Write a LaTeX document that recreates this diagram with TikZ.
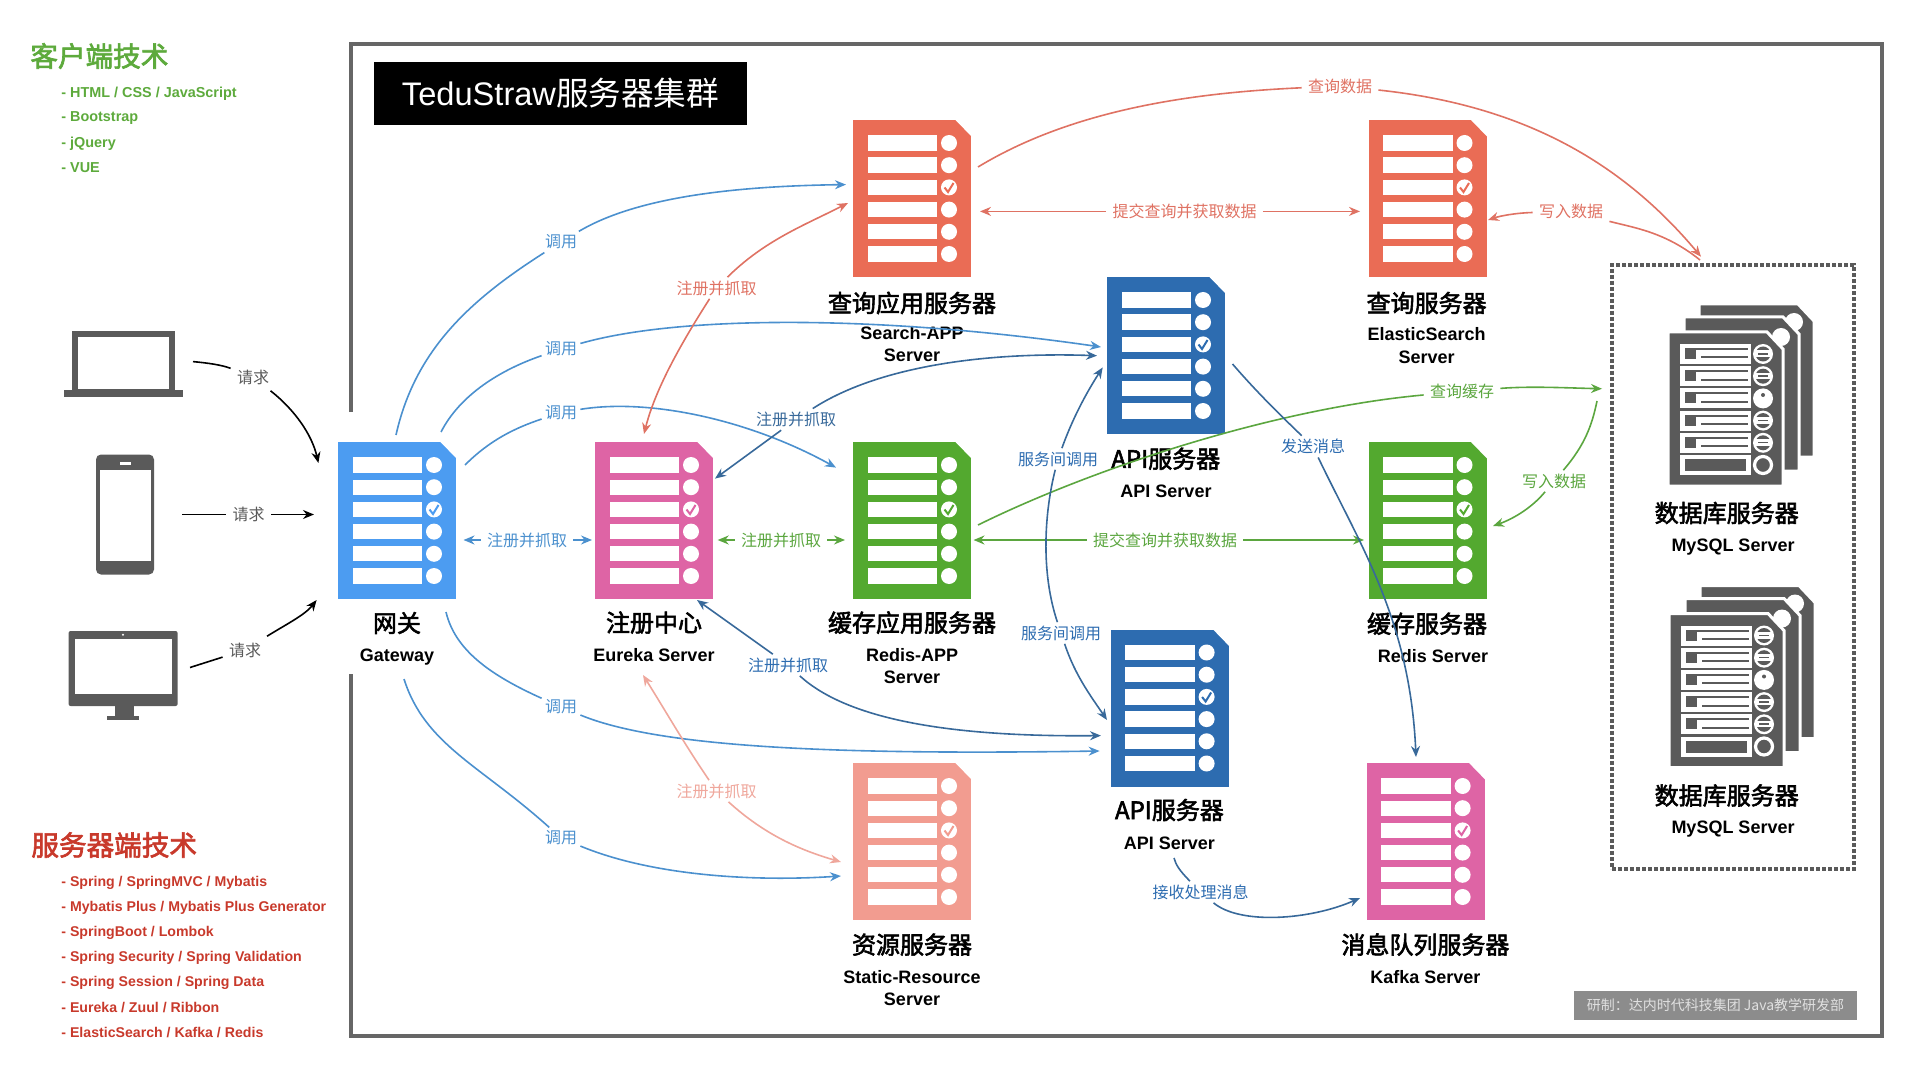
\documentclass[tikz,border=0pt]{standalone}
\usepackage{fontspec}
\setmainfont{Liberation Sans}
\newfontfamily\cjk{Noto Sans CJK SC}
\newfontfamily\cjkhead[FakeBold=2.4]{Noto Sans CJK SC}
\definecolor{tsBlue}{HTML}{4C9CF1}
\definecolor{tsPink}{HTML}{DE64A5}
\definecolor{tsGreen}{HTML}{53A92F}
\definecolor{tsRed}{HTML}{EA6C55}
\definecolor{tsNavy}{HTML}{2D6CB0}
\definecolor{tsSalmon}{HTML}{F29C90}
\definecolor{tsGrey}{HTML}{5A5A5A}
\definecolor{tsFrame}{HTML}{666666}
\definecolor{tsStamp}{HTML}{8C8C8C}
\definecolor{lnBlue}{HTML}{4B90CE}
\definecolor{lnNavy}{HTML}{38699A}
\definecolor{lnRed}{HTML}{DF7263}
\definecolor{lnGreen}{HTML}{5BA63F}
\definecolor{lnPink}{HTML}{EFA79C}
\definecolor{hdGreen}{HTML}{5DAA3C}
\definecolor{hdRed}{HTML}{C8392B}
\usetikzlibrary{arrows.meta}
\tikzset{
  serverBox/.style={minimum width=59pt, minimum height=78.5pt, inner sep=0pt, outer sep=0pt},
  deviceBox/.style={inner sep=0pt, outer sep=0pt},
  cnTitle/.style={font=\cjkhead\fontsize{12}{14}\selectfont, text=black, inner sep=0pt},
  enTitle/.style={font=\bfseries\fontsize{9}{11}\selectfont, text=black, inner sep=0pt},
  lineLabel/.style={font=\cjk\fontsize{8}{10}\selectfont, inner sep=1.5pt},
  link/.style={line width=0.8pt},
  arrowLink/.style={link, -{Stealth[length=5.5pt,width=4.5pt]}},
  bothLabel/.style={lineLabel, inner sep=3pt},
  listGreen/.style={font=\bfseries\fontsize{7.2}{9}\selectfont, text=hdGreen, anchor=west, inner sep=0pt},
  listRed/.style={font=\bfseries\fontsize{7.07}{9}\selectfont, text=hdRed, anchor=west, inner sep=0pt}
}
% server sheet: name, centre x, centre y, colour
\newcommand{\serverdoc}[4]{
  \node[serverBox, fill=#4] (#1) at (#2,#3) {};
  \begin{scope}[shift={(#2,#3)}]
    \fill[white] (43,-79) -- (60,-79) -- (60,-61.5) -- cycle;
    \foreach \row in {0,...,5} {
      \fill[white] (-44.3,{-63.2+22.2*\row}) rectangle ++(69.3,15.3);
      \fill[white] (37,{-55.5+22.2*\row}) circle (8);
    }
    \draw[#4, line width=1pt] (32.5,-11) -- (36,-6.5) -- (41.5,-15.5);
  \end{scope}
}
% database sheet with its rows, front sheet at its top left corner
\newcommand{\dbsheet}[4]{
  \fill[tsGrey, draw=white, line width=1.5pt] (#1,#2) -- ({#3-16},#2) -- (#3,{#2+17}) -- (#3,#4) -- (#1,#4) -- cycle;
}
\newcommand{\dbstack}[2]{
  \begin{scope}[shift={(#1,#2)}]
    \dbsheet{31}{-28}{146}{125}
    \fill[white] (126,-10) circle (9);
    \dbsheet{16}{-15}{131}{139}
    \fill[white] (113,5) circle (9);
    \dbsheet{0}{0}{115}{154}
    \foreach \row in {0,...,4} {
      \fill[white] (11.7,{12+22.2*\row}) rectangle ++(71,20);
      \fill[tsGrey] (17,{16+22.2*\row}) rectangle ++(11,11);
      \fill[tsGrey] (28,{16+22.2*\row}) rectangle ++(52,2);
      \fill[tsGrey] (33,{24.5+22.2*\row}) rectangle ++(47,2);
      \fill[white] (95,{22+22.2*\row}) circle (10);
    }
    \foreach \row in {0,1,3,4} {
      \fill[tsGrey] (95,{22+22.2*\row}) circle (7.5);
      \fill[white] (86,{18.5+22.2*\row}) rectangle ++(18,6.5);
      \fill[tsGrey] (90,{21+22.2*\row}) rectangle ++(10,1.6);
    }
    \fill[tsGrey] (95,63) circle (2);
    \fill[white] (11.7,123) rectangle ++(71,20);
    \fill[tsGrey] (17,127) rectangle ++(60.5,12);
    \draw[white, line width=1.6pt] (95,133) circle (8.5);
  \end{scope}
}

\begin{document}
\begin{tikzpicture}[x=0.5pt,y=-0.5pt]
  \useasboundingbox (0,0) rectangle (1920,1080);

  % frame, open behind the gateway
  \draw[tsFrame, line width=2pt] (351,412) -- (351,44) -- (1881.6,44) -- (1881.6,1036) -- (351,1036) -- (351,674);
  \node[fill=black, text=white, minimum width=186.5pt, minimum height=31.5pt, inner sep=0pt, font=\fontsize{16.3}{18}\selectfont] (clusterTitle) at (560.5,93.5) {TeduStraw{\cjk 服务器集群}};
  \node[fill=tsStamp, text=white!88!black, minimum width=141.5pt, minimum height=14.5pt, inner sep=0pt, font=\cjk\fontsize{7}{9}\selectfont] (stamp) at (1715.5,1005.5) {研制：达内时代科技集团 Java教学研发部};

  % left column
  \node[font=\cjkhead\fontsize{13.8}{16}\selectfont, text=hdGreen, anchor=west, inner sep=0pt] (clientHead) at (30,56) {客户端技术};
  \node[listGreen] (clientA) at (61,93.5) {- HTML / CSS / JavaScript};
  \node[listGreen] (clientB) at (61,118.5) {- Bootstrap};
  \node[listGreen] (clientC) at (61,143.5) {- jQuery};
  \node[listGreen] (clientD) at (61,168) {- VUE};
  \node[font=\cjkhead\fontsize{13.8}{16}\selectfont, text=hdRed, anchor=west, inner sep=0pt] (serverHead) at (31,845) {服务器端技术};
  \node[listRed] (serverA) at (61,882.5) {- Spring / SpringMVC / Mybatis};
  \node[listRed] (serverB) at (61,907.5) {- Mybatis Plus / Mybatis Plus Generator};
  \node[listRed] (serverC) at (61,932.5) {- SpringBoot / Lombok};
  \node[listRed] (serverD) at (61,957.5) {- Spring Security / Spring Validation};
  \node[listRed] (serverE) at (61,982.5) {- Spring Session / Spring Data};
  \node[listRed] (serverF) at (61,1007.5) {- Eureka / Zuul / Ribbon};
  \node[listRed] (serverG) at (61,1032.5) {- ElasticSearch / Kafka / Redis};

  % devices
  \node[deviceBox, minimum width=59pt, minimum height=33.5pt] (laptop) at (123.25,364) {};
  \draw[tsGrey, line width=3pt] (75,334) rectangle (171.5,392);
  \fill[tsGrey] (64,390) rectangle (182.5,397);
  \node[deviceBox, minimum width=29pt, minimum height=60pt] (phone) at (125,514.5) {};
  \fill[tsGrey, rounded corners=2.5pt] (96,454.5) rectangle (154,574.5);
  \fill[white] (100,470) rectangle (151,560.7);
  \fill[white] (119.5,462) rectangle (130.5,464.5);
  \node[deviceBox, minimum width=54.5pt, minimum height=44.5pt] (monitor) at (123,675.5) {};
  \fill[tsGrey, rounded corners=1pt] (68.6,631) rectangle (177.6,706);
  \fill[white] (74.7,639) rectangle (171.5,694);
  \fill[white] (123,634.7) circle (1.2);
  \fill[tsGrey] (114.5,706) rectangle (133.5,716);
  \fill[tsGrey] (107,716) rectangle (139,720);

  % servers
  \serverdoc{gateway}{397}{520.5}{tsBlue}
  \serverdoc{eureka}{654}{520.5}{tsPink}
  \serverdoc{redisApp}{912}{520.5}{tsGreen}
  \serverdoc{searchApp}{912}{198.5}{tsRed}
  \serverdoc{esServer}{1427.5}{198.5}{tsRed}
  \serverdoc{apiA}{1166}{355.5}{tsNavy}
  \serverdoc{redisServer}{1427.5}{520.5}{tsGreen}
  \serverdoc{apiB}{1169.6}{708}{tsNavy}
  \serverdoc{staticRes}{912}{841.5}{tsSalmon}
  \serverdoc{kafka}{1425.6}{841.5}{tsPink}

  % database group
  \node[draw=tsGrey, line width=2pt, densely dotted, minimum width=121pt, minimum height=302pt, inner sep=0pt] (dbBox) at (1733,566.75) {};
  \dbstack{1668}{332}
  \dbstack{1669}{613.5}

  % server names
  \node[cnTitle] (gatewayCn) at (397,623) {网关};
  \node[enTitle] (gatewayEn) at (397,657) {Gateway};
  \node[cnTitle] (eurekaCn) at (654,622.6) {注册中心};
  \node[enTitle] (eurekaEn) at (654,654.7) {Eureka Server};
  \node[cnTitle] (redisAppCn) at (912,622.6) {缓存应用服务器};
  \node[enTitle] (redisAppEn) at (912,654.7) {Redis-APP};
  \node[enTitle] (redisAppEnB) at (912,677.7) {Server};
  \node[cnTitle] (searchAppCn) at (912,303) {查询应用服务器};
  \node[enTitle] (searchAppEn) at (912,333) {Search-APP};
  \node[enTitle] (searchAppEnB) at (912,355.7) {Server};
  \node[cnTitle] (esCn) at (1426.6,303) {查询服务器};
  \node[enTitle] (esEn) at (1426.6,334) {ElasticSearch};
  \node[enTitle] (esEnB) at (1426.6,357) {Server};
  \node[cnTitle] (apiACn) at (1165.8,458.7) {API服务器};
  \node[enTitle] (apiAEn) at (1166,491) {API Server};
  \node[cnTitle] (redisCn) at (1427,623.7) {缓存服务器};
  \node[enTitle] (redisEn) at (1433,656) {Redis Server};
  \node[cnTitle] (apiBCn) at (1169.4,810) {API服务器};
  \node[enTitle] (apiBEn) at (1169.4,843) {API Server};
  \node[cnTitle] (staticCn) at (912,944.6) {资源服务器};
  \node[enTitle] (staticEn) at (912,976.6) {Static-Resource};
  \node[enTitle] (staticEnB) at (912,999.7) {Server};
  \node[cnTitle] (kafkaCn) at (1425.4,944.6) {消息队列服务器};
  \node[enTitle] (kafkaEn) at (1425.4,976.6) {Kafka Server};
  \node[cnTitle] (dbACn) at (1726.7,513) {数据库服务器};
  \node[enTitle] (dbAEn) at (1733,547) {MySQL Server};
  \node[cnTitle] (dbBCn) at (1726.7,795.5) {数据库服务器};
  \node[enTitle] (dbBEn) at (1733,829) {MySQL Server};

  % line labels
  \node[lineLabel, text=tsGrey, inner sep=3pt] (askLaptop) at (253,377) {请求};
  \node[lineLabel, text=tsGrey, inner sep=3pt] (askPhone) at (248.6,514.5) {请求};
  \node[lineLabel, text=tsGrey, inner sep=3pt] (askMonitor) at (245,650) {请求};
  \node[lineLabel, text=lnBlue] (callSearch) at (561,242) {调用};
  \node[lineLabel, text=lnBlue] (callApiA) at (561,349) {调用};
  \node[lineLabel, text=lnBlue] (callRedis) at (561,412.5) {调用};
  \node[lineLabel, text=lnBlue] (callApiB) at (561,707) {调用};
  \node[lineLabel, text=lnBlue] (callStatic) at (561,838) {调用};
  \node[bothLabel, text=lnBlue] (regGateway) at (527,540) {注册并抓取};
  \node[bothLabel, text=lnGreen] (regRedis) at (781,540) {注册并抓取};
  \node[lineLabel, text=lnRed] (regSearch) at (716.5,288) {注册并抓取};
  \node[lineLabel, text=lnNavy] (regApiA) at (796,419.4) {注册并抓取};
  \node[lineLabel, text=tsNavy] (regApiB) at (788,665) {注册并抓取};
  \node[lineLabel, text=lnPink] (regStatic) at (716.5,791) {注册并抓取};
  \node[lineLabel, text=lnRed, inner sep=3pt] (queryData) at (1340,86) {查询数据};
  \node[bothLabel, text=lnRed] (submitEs) at (1184.5,211.4) {提交查询并获取数据};
  \node[lineLabel, text=lnRed, inner sep=3pt] (writeEs) at (1571,211.4) {写入数据};
  \node[lineLabel, text=lnGreen, inner sep=3pt] (queryCache) at (1462,391.5) {查询缓存};
  \node[bothLabel, text=lnGreen] (submitRedis) at (1165,540) {提交查询并获取数据};
  \node[lineLabel, text=lnGreen] (writeRedis) at (1554,481) {写入数据};
  \node[lineLabel, text=tsNavy] (svcUpper) at (1058,459) {服务间调用};
  \node[lineLabel, text=tsNavy] (svcLower) at (1061,633) {服务间调用};
  \node[lineLabel, text=tsNavy] (sendMsg) at (1313,446.6) {发送消息};
  \node[lineLabel, text=tsNavy] (takeMsg) at (1200.6,892) {接收处理消息};

  % requests from devices
  \draw[link, black] ([shift={(69.75,-2.4)}]laptop.center) .. controls (208,363) and (222,365) .. (askLaptop);
  \draw[arrowLink, black] (askLaptop) .. controls (295,410) and (312,435) .. ([shift={(-78.6,-57.5)}]gateway.center);
  \draw[link, black] ([shift={(57,0)}]phone.center) -- (askPhone);
  \draw[arrowLink, black] (askPhone) -- ([shift={(-83,-6)}]gateway.center);
  \draw[link, black] ([shift={(67,-8)}]monitor.center) -- (askMonitor);
  \draw[arrowLink, black] (askMonitor) .. controls (285,625) and (305,615) .. ([shift={(-80.4,79.5)}]gateway.center);

  % gateway calls
  \draw[link, lnBlue] ([shift={(-1,-85.5)}]gateway.center) .. controls (415,350) and (470,300) .. (callSearch);
  \draw[arrowLink, lnBlue] (callSearch) .. controls (640,195) and (745,186) .. ([shift={(-66,-13.9)}]searchApp.center);
  \draw[link, lnBlue] ([shift={(44,-88.5)}]gateway.center) .. controls (460,395) and (500,370) .. (callApiA);
  \draw[arrowLink, lnBlue] (callApiA) .. controls (680,315) and (880,315) .. ([shift={(-65,-8.5)}]apiA.center);
  \draw[link, lnBlue] ([shift={(68,-55.5)}]gateway.center) .. controls (490,440) and (515,428) .. (callRedis);
  \draw[arrowLink, lnBlue] (callRedis) .. controls (650,398) and (750,420) .. ([shift={(-76,-52.9)}]redisApp.center);
  \draw[link, lnBlue] ([shift={(49,91.5)}]gateway.center) .. controls (455,650) and (490,675) .. (callApiB);
  \draw[arrowLink, lnBlue] (callApiB) .. controls (660,748) and (840,755) .. ([shift={(-70,43)}]apiB.center);
  \draw[link, lnBlue] ([shift={(7,158.5)}]gateway.center) .. controls (425,745) and (480,765) .. (callStatic);
  \draw[arrowLink, lnBlue] (callStatic) .. controls (650,875) and (750,882) .. ([shift={(-71,34.5)}]staticRes.center);

  % registration
  \draw[arrowLink, lnBlue] (regGateway) -- ([shift={(66.5,19.5)}]gateway.center);
  \draw[arrowLink, lnBlue] (regGateway) -- ([shift={(-62,19.5)}]eureka.center);
  \draw[arrowLink, lnGreen] (regRedis) -- ([shift={(63.7,19.5)}]eureka.center);
  \draw[arrowLink, lnGreen] (regRedis) -- ([shift={(-67,19.5)}]redisApp.center);
  \draw[arrowLink, lnRed] (regSearch) .. controls (765,240) and (805,225) .. ([shift={(-64,4.5)}]searchApp.center);
  \draw[arrowLink, lnRed] (regSearch) .. controls (680,345) and (655,390) .. ([shift={(-10,-86.5)}]eureka.center);
  \draw[arrowLink, lnNavy] (regApiA) -- ([shift={(61,-41.9)}]eureka.center);
  \draw[arrowLink, lnNavy] (regApiA) .. controls (880,365) and (990,352) .. ([shift={(-69,0.2)}]apiA.center);
  \draw[arrowLink, lnNavy] (regApiB) -- ([shift={(43,79.5)}]eureka.center);
  \draw[arrowLink, lnNavy] (regApiB) .. controls (850,722) and (960,737) .. ([shift={(-68.6,27.6)}]apiB.center);
  \draw[arrowLink, lnPink] (regStatic) .. controls (685,745) and (665,710) .. ([shift={(-11,154.5)}]eureka.center);
  \draw[arrowLink, lnPink] (regStatic) .. controls (765,835) and (800,850) .. ([shift={(-71,20.5)}]staticRes.center);

  % search and database
  \draw[link, lnRed] ([shift={(66,-31.5)}]searchApp.center) .. controls (1080,105) and (1210,92) .. (queryData);
  \draw[arrowLink, lnRed] (queryData) .. controls (1520,105) and (1620,160) .. ([shift={(-32,-310)}]dbBox.center);
  \draw[arrowLink, lnRed] (submitEs) -- ([shift={(68,12.9)}]searchApp.center);
  \draw[arrowLink, lnRed] (submitEs) -- ([shift={(-67.5,12.9)}]esServer.center);
  \draw[arrowLink, lnRed] (writeEs) .. controls (1515,213) and (1500,216) .. ([shift={(60.5,21.5)}]esServer.center);
  \draw[link, lnRed] ([shift={(-33,-306.75)}]dbBox.center) .. controls (1665,232) and (1635,228) .. (writeEs);

  % cache and database
  \draw[link, lnGreen] ([shift={(66,4.5)}]redisApp.center) .. controls (1100,465) and (1280,408) .. (queryCache);
  \draw[arrowLink, lnGreen] (queryCache) .. controls (1530,386) and (1570,388) .. ([shift={(-131,-178)}]dbBox.center);
  \draw[arrowLink, lnGreen] (submitRedis) -- ([shift={(61.5,19.5)}]redisApp.center);
  \draw[arrowLink, lnGreen] (submitRedis) -- ([shift={(-63.5,19.5)}]redisServer.center);
  \draw[link, lnGreen] ([shift={(-136,-165.75)}]dbBox.center) .. controls (1592,425) and (1585,445) .. (writeRedis);
  \draw[arrowLink, lnGreen] (writeRedis) .. controls (1530,510) and (1510,520) .. ([shift={(65.5,5.5)}]redisServer.center);

  % between the API servers and the queue
  \draw[arrowLink, lnNavy] (svcUpper) .. controls (1072,420) and (1085,395) .. ([shift={(-63.3,11.9)}]apiA.center);
  \draw[link, lnNavy] (svcUpper) .. controls (1045,510) and (1040,570) .. (svcLower);
  \draw[arrowLink, lnNavy] (svcLower) .. controls (1075,675) and (1090,695) .. ([shift={(-62.6,12)}]apiB.center);
  \draw[link, lnNavy] ([shift={(66.5,8.5)}]apiA.center) .. controls (1255,390) and (1275,410) .. (sendMsg);
  \draw[arrowLink, lnNavy] (sendMsg) .. controls (1360,545) and (1410,620) .. ([shift={(-9.6,-84.5)}]kafka.center);
  \draw[link, lnNavy] ([shift={(4.4,150)}]apiB.center) .. controls (1176,865) and (1179,870) .. (takeMsg);
  \draw[arrowLink, lnNavy] (takeMsg) .. controls (1240,925) and (1310,920) .. ([shift={(-65.6,56.5)}]kafka.center);
\end{tikzpicture}
\end{document}
